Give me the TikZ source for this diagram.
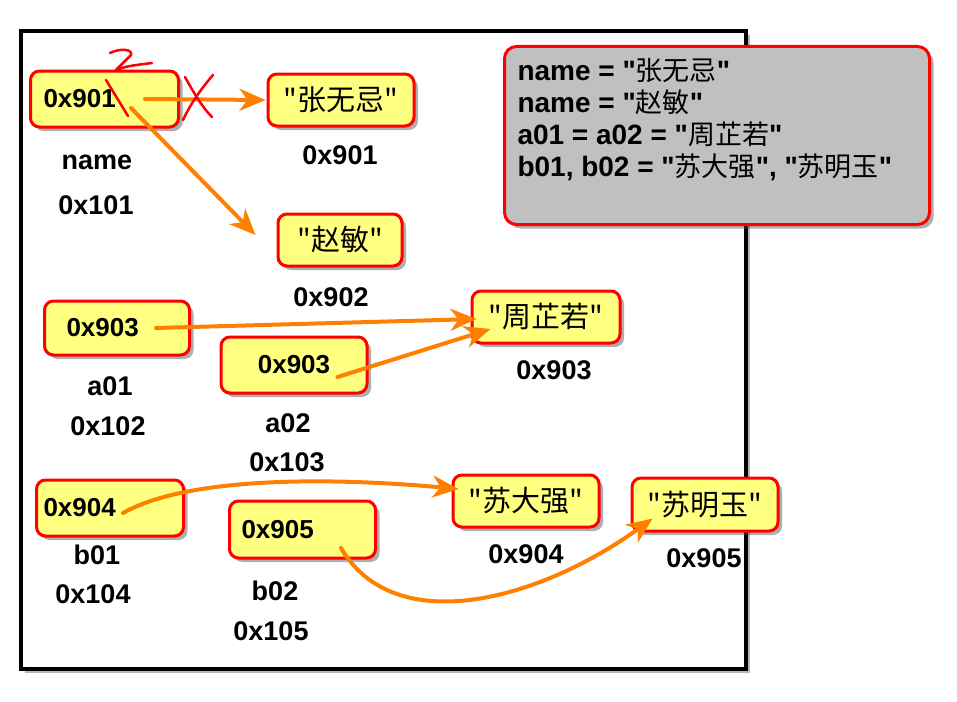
\documentclass[tikz,border=0pt]{standalone}
\usepackage{fontspec}
\newfontfamily\lat{Liberation Sans}
\newfontfamily\cjk{Noto Sans CJK SC}
\usetikzlibrary{arrows.meta,shadows,calc}
\definecolor{boxyellow}{RGB}{255,255,128}
\definecolor{notegray}{RGB}{192,192,192}
\definecolor{arroworange}{RGB}{255,128,0}
\newcommand{\zh}[1]{{\cjk\mdseries #1}}
\begin{document}
\begin{tikzpicture}[x=1pt,y=-1pt,
  membox/.style={draw=red, fill=boxyellow, line width=3pt, rounded corners=9pt,
    drop shadow={shadow xshift=4pt, shadow yshift=-4pt, opacity=0.45, fill=black!70},
    font=\lat\fontsize{26}{30}\selectfont\bfseries, inner ysep=0pt},
  notebox/.style={draw=red, fill=notegray, line width=3pt, rounded corners=12pt,
    drop shadow={shadow xshift=4pt, shadow yshift=-4pt, opacity=0.45, fill=black!70},
    inner xsep=13pt, inner ysep=12pt},
  frame/.style={draw=black, fill=white, line width=4pt,
    drop shadow={shadow xshift=4pt, shadow yshift=-4pt, opacity=0.4, fill=black!70}},
  lbl/.style={font=\lat\fontsize{27}{30}\selectfont\bfseries, inner sep=0pt},
  zhtext/.style={font=\cjk\fontsize{29}{30}\selectfont},
  ptr/.style={draw=arroworange, line width=4pt, line cap=round,
    -{Stealth[length=26pt,width=22pt,inset=8pt]}},
  redmark/.style={draw=red, line width=2.5pt, line cap=round, line join=round}
]
\useasboundingbox[fill=white] (0,0) rectangle (957,701);

% outer frame
\node[frame, anchor=north west, minimum width=725pt, minimum height=638pt, inner sep=0pt] (frm) at (19,29) {};

% memory boxes
\node[membox, anchor=west, minimum height=56pt, inner xsep=13pt, text width=122pt, align=left] (p901) at (29,99) {0x901};
\node[membox, zhtext, minimum width=146pt, minimum height=52pt] (s1) at (341,100) {\zh{"张无忌"}};
\node[membox, zhtext, minimum width=124pt, minimum height=52pt] (s2) at (340,240) {\zh{"赵敏"}};
\node[membox, anchor=west, minimum height=54pt, inner xsep=22pt, text width=101pt, align=left] (a01) at (43,328) {0x903};
\node[membox, zhtext, minimum width=148pt, minimum height=52pt] (s3) at (546,317) {\zh{"周芷若"}};
\node[membox, minimum width=146pt, minimum height=56pt] (a02) at (294,365) {0x903};
\node[membox, anchor=west, minimum height=56pt, inner xsep=7pt, text width=133pt, align=left] (b01) at (35,508) {0x904};
\node[membox, anchor=west, minimum height=57pt, inner xsep=12pt, text width=122pt, align=left] (b02) at (228,529.5) {0x905};
\node[membox, zhtext, minimum width=146pt, minimum height=52pt] (s4) at (526,501) {\zh{"苏大强"}};
\node[membox, zhtext, minimum width=146pt, minimum height=53pt] (s5) at (705,504.5) {\zh{"苏明玉"}};

% labels
\node[lbl] (l1) at (340,155) {0x901};
\node[lbl] (lname) at (97,162) {name};
\node[lbl] (l101) at (96,205) {0x101};
\node[lbl] (l902) at (331,297) {0x902};
\node[lbl] (l903) at (554,370) {0x903};
\node[lbl] (la01) at (110,386) {a01};
\node[lbl] (l102) at (108,426) {0x102};
\node[lbl] (la02) at (288,423) {a02};
\node[lbl] (l103) at (287,462) {0x103};
\node[lbl] (l904) at (526,554) {0x904};
\node[lbl] (l905) at (704,558) {0x905};
\node[lbl] (lb01) at (97,555) {b01};
\node[lbl] (l104) at (93,594) {0x104};
\node[lbl] (lb02) at (275,591) {b02};
\node[lbl] (l105) at (271,631) {0x105};

% pointers
\draw[ptr] ($(p901.east)+(-35,0)$) -- ($(s1.west)+(-1,0)$);
\draw[ptr] ($(p901.east)+(-49,9)$) -- ($(s2.west)+(-21,-5)$);
\draw[ptr] ($(a01.east)+(-35,0)$) -- ($(s3.west)+(6,2)$);
\draw[ptr] ($(a02.east)+(-31,12)$) -- ($(s3.west)+(20,12)$);
\draw[ptr] ($(b01.west)+(88,5)$) .. controls (190,475) and (340,478) .. ($(s4.west)+(7,-12)$);
\draw[ptr] ($(b02.east)+(-36,18.5)$) .. controls (395,640) and (540,600) .. ($(s5.west)+(22,14)$);

% red hand marks
\draw[redmark] (110,53) .. controls (120,48) and (133,49) .. (131,55) -- (116,70) .. controls (128,66) .. (152,63);
\draw[redmark] (106,80) -- (128,116);
\draw[redmark] (185,77) .. controls (195,95) and (203,108) .. (212,117);
\draw[redmark] (213,75) .. controls (200,90) and (190,105) .. (183,120);

% note
\node[notebox, anchor=north west] (note) at (503,45) {\parbox[c][154pt][t]{399pt}{\lat\fontsize{28}{32}\selectfont\bfseries
name = "\zh{\fontsize{27}{32}\selectfont 张无忌}"\\
name = "\zh{\fontsize{27}{32}\selectfont 赵敏}"\\
a01 = a02 = "\zh{\fontsize{27}{32}\selectfont 周芷若}"\\
b01, b02 = "\zh{\fontsize{27}{32}\selectfont 苏大强}", "\zh{\fontsize{27}{32}\selectfont 苏明玉}"}};
\end{tikzpicture}
\end{document}
